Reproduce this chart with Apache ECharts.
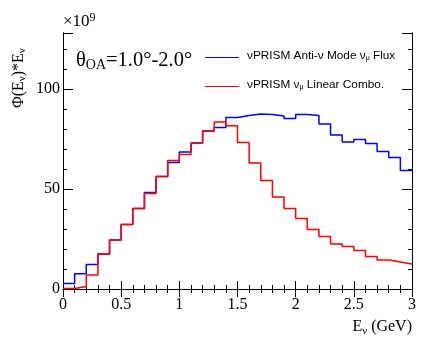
<!DOCTYPE html>
<html>
<head>
<meta charset="utf-8">
<script src="https://cdn.jsdelivr.net/npm/echarts@6/dist/echarts.min.js"></script>
<style>html,body{margin:0;padding:0;background:#fff}#c{width:436px;height:345px}</style>
</head>
<body>
<div id="c"></div>
<script>
// Bin low edges (GeV), bin width 0.1, last entry is the upper edge of the final bin
const binEdges = [0.0,0.1,0.2,0.3,0.4,0.5,0.6,0.7,0.8,0.9,1.0,1.1,1.2,1.3,1.4,1.5,1.6,1.7,1.8,1.9,2.0,2.1,2.2,2.3,2.4,2.5,2.6,2.7,2.8,2.9,3.0];
// Anti-nu mode flux (x1e9)
const antiNuFlux = [2.8,7.6,12.3,17.5,24.5,32.2,40.2,48.3,56.2,63.3,68.5,73.0,79.0,80.7,85.8,86.8,87.5,87.2,86.5,85.2,87.2,86.8,82.5,77.0,73.5,74.7,72.8,68.7,65.8,59.3];
// Linear combination (x1e9)
const linearCombo = [0.3,1.3,7.0,17.5,24.5,32.2,40.2,47.8,56.2,64.2,67.3,73.0,79.0,83.5,81.6,73.2,63.0,54.2,46.0,40.2,35.3,29.7,26.2,22.5,21.2,19.3,16.3,14.5,13.5,12.5];
const yMajorTicks = [0,50,100];

function stepData(vals){
  const d = vals.map((v,i)=>[binEdges[i], v]);
  d.push([binEdges[vals.length], vals[vals.length-1]]);
  return d;
}

const chart = echarts.init(document.getElementById('c'), null, {renderer:'canvas'});
const grid = {left:63, right:24, top:33, bottom:56};
const serif = 'Liberation Serif, Times New Roman, serif';
const sans = 'Liberation Sans, Arial, sans-serif';
const lineBlack = {show:true, lineStyle:{color:'#000', width:1}};

function xAx(pos, labels){
  return {type:'value', min:0, max:3, interval:0.5, position:pos,
    axisLine: lineBlack,
    axisTick:{show:true, inside:true, length:8, lineStyle:{color:'#000'}},
    minorTick:{show:true, splitNumber:5, length:4, lineStyle:{color:'#000'}},
    axisLabel:{show:labels, inside:false, margin:8, color:'#000', fontFamily:serif, fontSize:16,
      formatter: v => String(Math.round(v*10)/10)},
    splitLine:{show:false}, minorSplitLine:{show:false}};
}
function yAx(pos, interval, len, labels){
  return {type:'value', min:0, max:128, interval:interval, position:pos,
    axisLine: lineBlack,
    axisTick:{show:true, inside:true, length:len, lineStyle:{color:'#000'}},
    axisLabel:{show:labels, margin:3, color:'#000', fontFamily:serif, fontSize:16,
      formatter: v => yMajorTicks.indexOf(v) >= 0 ? String(v) : ''},
    splitLine:{show:false}};
}

chart.setOption({
  animation:false,
  backgroundColor:'#fff',
  grid: grid,
  xAxis:[xAx('bottom', true), xAx('top', false)],
  yAxis:[yAx('left',50,10,true), yAx('left',10,4,false), yAx('right',50,10,false), yAx('right',10,4,false)],
  series:[
    {type:'line', name:'anti', data:stepData(antiNuFlux), step:'end', showSymbol:false, symbol:'none',
      lineStyle:{color:'#0000ff', width:1.5}, xAxisIndex:0, yAxisIndex:0, z:3},
    {type:'line', name:'combo', data:stepData(linearCombo), step:'end', showSymbol:false, symbol:'none',
      lineStyle:{color:'#ff0000', width:1.5}, xAxisIndex:0, yAxisIndex:0, z:4}
  ],
  graphic:[
    {type:'text', left:63, top:12, style:{
      text:'{a|×10}{s|9}', rich:{a:{fontFamily:serif, fontSize:17, fill:'#000'}, s:{fontFamily:serif, fontSize:12, fill:'#000', padding:[0,0,8,0]}}}},
    {type:'text', x:9, y:108, rotation:Math.PI/2, style:{
      text:'{a|Φ(E}{b|ν}{a|)*E}{b|ν}',
      verticalAlign:'top',
      rich:{a:{fontFamily:serif, fontSize:16, fill:'#000'}, b:{fontFamily:serif, fontSize:11, fill:'#000', padding:[8,0,0,0]}}}},
    {type:'text', right:24, top:319, style:{
      text:'{a|E}{b|ν}{a| (GeV)}', rich:{a:{fontFamily:serif, fontSize:16, fill:'#000'}, b:{fontFamily:serif, fontSize:11, fill:'#000', padding:[8,0,0,0]}}}},
    {type:'text', left:76, top:50, style:{
      text:'{a|θ}{b|OA}{a|=1.0°-2.0°}', rich:{a:{fontFamily:serif, fontSize:20.5, fill:'#000'}, b:{fontFamily:serif, fontSize:14, fill:'#000', padding:[10,0,0,0]}}}},
    {type:'line', shape:{x1:205, y1:57.5, x2:239, y2:57.5}, style:{stroke:'#0000ff', lineWidth:1.2}},
    {type:'line', shape:{x1:205, y1:86.5, x2:239, y2:86.5}, style:{stroke:'#ff0000', lineWidth:1.2}},
    {type:'text', left:247, top:50, style:{
      text:'{a|νPRISM Anti-ν Mode ν}{b|μ}{a| Flux}', rich:{a:{fontFamily:sans, fontSize:11.8, fill:'#000'}, b:{fontFamily:sans, fontSize:7, fill:'#000', padding:[5,0,0,0]}}}},
    {type:'text', left:247, top:79, style:{
      text:'{a|νPRISM ν}{b|μ}{a| Linear Combo.}', rich:{a:{fontFamily:sans, fontSize:11.8, fill:'#000'}, b:{fontFamily:sans, fontSize:7, fill:'#000', padding:[5,0,0,0]}}}}
  ]
});
</script>
</body>
</html>
